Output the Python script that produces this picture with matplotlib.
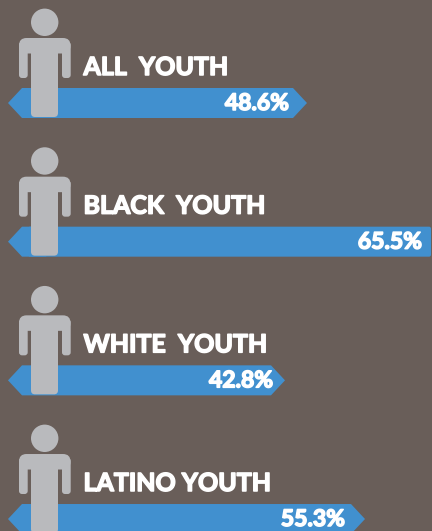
import matplotlib
matplotlib.use("Agg")
import matplotlib.pyplot as plt
import matplotlib.patches as mpatches
import matplotlib.patheffects as pe

# Group names and the percentages printed on the bars
groups = ["ALL  YOUTH", "BLACK  YOUTH", "WHITE  YOUTH", "LATINO YOUTH"]
values = [48.6, 65.5, 42.8, 55.3]

# The source graphic is not drawn to scale, so bar ends are read off the picture
bar_ends = [307, 440, 285, 365]

BG = "#695E59"
BLUE = "#4190CF"
GREY = "#B9BABD"


def draw_person(ax, top):
    # top = y of the bar this figure stands on
    y0 = top - 88
    parts = [
        (19, 38, 51.5, 15.5, 7.5),  # shoulders
        (19, 42, 8.7, 36, 3),       # left arm
        (62, 42, 8.7, 36, 3),       # right arm
        (31, 42, 27, 75, 4),        # torso
    ]
    for x, y, w, h, r in parts:
        ax.add_patch(mpatches.FancyBboxPatch(
            (x + r, y + y0 + r), w - 2 * r, h - 2 * r,
            boxstyle=f"round,pad={r},rounding_size={r}",
            facecolor=GREY, edgecolor="none", zorder=3))
    ax.add_patch(mpatches.Circle((44.7, 22.3 + y0), 13.7, facecolor=GREY,
                                 edgecolor="none", zorder=3))


def draw_bar(ax, top, end):
    h = 30
    tip = 14
    pts = [(8, top + h / 2), (8 + tip, top), (end - tip, top),
           (end, top + h / 2), (end - tip, top + h), (8 + tip, top + h)]
    ax.add_patch(mpatches.Polygon(pts, closed=True, facecolor=BLUE,
                                  edgecolor="none", zorder=2))


fig = plt.figure(figsize=(4.32, 5.31), dpi=100, facecolor=BG)
ax = fig.add_axes([0, 0, 1, 1])
ax.set_xlim(0, 432)
ax.set_ylim(531, 0)
ax.axis("off")

label_ends = [289, 422, 273, 345]
heavy = [pe.withStroke(linewidth=1.1, foreground="white")]

for i, (name, val, end) in enumerate(zip(groups, values, bar_ends)):
    top = 88 + i * 138.67
    if end > 432:
        # bar runs off the right edge, no arrow tip visible
        ax.add_patch(mpatches.FancyBboxPatch(
            (30, top + 2), 399, 26, boxstyle="round,pad=2,rounding_size=2",
            facecolor=BLUE, edgecolor="none", zorder=2))
        draw_bar(ax, top, 60)
    else:
        draw_bar(ax, top, end)
    draw_person(ax, top)
    ax.text(83.5, top - 13, name, color="white", fontsize=18, family="Lato",
            weight="bold", va="baseline", ha="left", zorder=4, path_effects=heavy)
    ax.text(label_ends[i], top + 22, f"{val}%", color="white", fontsize=16.5,
            family="Lato", weight="bold", va="baseline", ha="right", zorder=4,
            path_effects=heavy)

plt.savefig("out.png", dpi=100, facecolor=BG)
plt.close()
